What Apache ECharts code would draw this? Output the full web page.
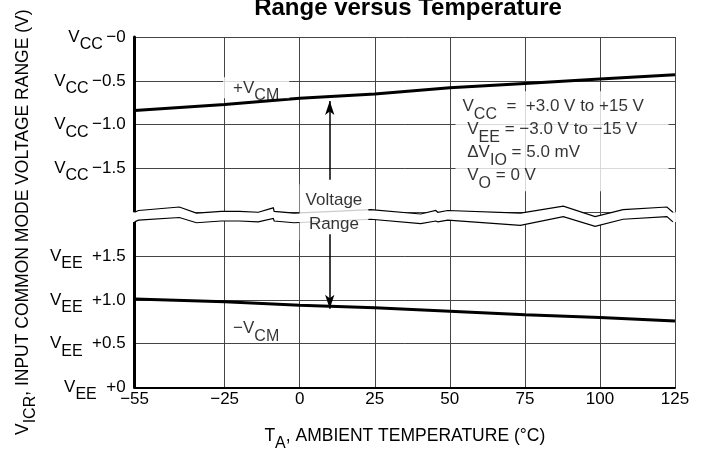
<!DOCTYPE html>
<html><head><meta charset="utf-8">
<script src="https://cdn.jsdelivr.net/npm/echarts@6/dist/echarts.min.js"></script>
<style>html,body{margin:0;padding:0;background:#fff}#c{width:702px;height:457px}</style>
</head><body><div id="c"></div>
<script>
// ---- data ----
const temps = [-55, -25, 0, 25, 50, 75, 100, 125];
const xTicks = [-55, -25, 0, 25, 50, 75, 100, 125];
// +VCM, expressed as offset from VCC (V)
const vcmPlusFromVcc = [-0.84, -0.77, -0.70, -0.65, -0.58, -0.53, -0.48, -0.43];
// -VCM, expressed as offset above VEE (V)
const vcmMinusFromVee = [1.01, 0.98, 0.94, 0.91, 0.87, 0.83, 0.80, 0.76];
// broken axis: lower part VEE+0..+1.5, upper part VCC-1.5..-0 ; VCC-0 sits at 4 on the shared scale
const VCC_LEVEL = 4;
const yTickValues = [0, 0.5, 1, 1.5, 2.5, 3, 3.5, 4];
const yTickLabels = ['V{s|EE}  +0', 'V{s|EE}  +0.5', 'V{s|EE}  +1.0', 'V{s|EE}  +1.5',
                     'V{s|CC}\u2009\u22121.5', 'V{s|CC}\u2009\u22121.0', 'V{s|CC}\u2009\u22120.5', 'V{s|CC}\u2009\u22120'];
// axis-break zigzag lines [temperature, shared-scale value]
const breakTop = [[-55,2.00],[-53.7,2.02],[-40.1,2.06],[-34.4,1.99],[-26.1,2.01],[-20.1,2.01],[-13.8,2.00],[-8.8,2.05],[-8.5,2.01],[-1.9,1.99],[11.4,2.01],[23.7,2.03],[40.3,1.98],[45.3,2.02],[46.0,2.00],[49.3,2.02],[73.5,1.99],[87.8,2.07],[98.4,1.95],[107.7,2.03],[122.3,2.06],[124.3,2.00]];
const breakBottom = [[-55,1.89],[-53.7,1.91],[-40.1,1.94],[-34.4,1.88],[-26.1,1.90],[-20.1,1.90],[-13.8,1.89],[-8.8,1.93],[-8.5,1.90],[-1.9,1.88],[11.4,1.90],[23.7,1.92],[40.3,1.87],[45.3,1.90],[46.0,1.89],[49.3,1.91],[73.5,1.85],[87.8,1.95],[98.4,1.84],[107.7,1.92],[122.3,1.95],[124.3,1.89]];
// arrows of "Voltage Range" (temperature, from, to on the shared scale)
const arrowT = 10;
const arrowUp = [2.37, 3.27];
const arrowDown = [1.75, 0.90];

const FONT = "'Liberation Sans', Arial, Helvetica, sans-serif";
const sub = { fontSize: 16, fontFamily: FONT, color: '#000', lineHeight: 8, padding: [15, 0, 0, 0] };

const chart = echarts.init(document.getElementById('c'), null, { renderer: 'canvas' });
const option = {
  animation: false,
  backgroundColor: '#fff',
  title: {
    text: 'Range versus Temperature',
    left: 403, top: -9, textAlign: 'center',
    textStyle: { fontFamily: FONT, fontWeight: 'bold', fontSize: 24, color: '#000' }
  },
  grid: { left: 133, right: 27, top: 37, bottom: 68 },
  xAxis: {
    type: 'value', min: -55, max: 125,
    name: 'T{s|A}, AMBIENT TEMPERATURE (\u00B0C)',
    nameLocation: 'middle', nameGap: 40,
    nameTextStyle: { fontFamily: FONT, fontSize: 17.5, color: '#000', rich: { s: sub } },
    axisLine: { show: true, onZero: false, lineStyle: { color: '#000', width: 2 } },
    axisTick: { show: false, customValues: xTicks },
    axisLabel: {
      customValues: xTicks, margin: 3,
      fontFamily: FONT, fontSize: 17, color: '#000',
      formatter: v => (v < 0 ? '\u2212' + Math.abs(v) : String(v))
    },
    splitLine: { show: true, lineStyle: { color: '#444', width: 1 } }
  },
  yAxis: {
    type: 'value', min: 0, max: 4, interval: 0.5,
    name: 'V{s|ICR}, INPUT COMMON MODE VOLTAGE RANGE (V)',
    nameLocation: 'middle', nameGap: 100, nameRotate: 90,
    nameTextStyle: { fontFamily: FONT, fontSize: 17.5, color: '#000', rich: { s: sub }, padding: [0, 20, 0, 0] },
    axisLine: { show: true, onZero: false, lineStyle: { color: '#000', width: 3 } },
    axisTick: { show: false },
    axisLabel: {
      margin: 9, fontFamily: FONT, fontSize: 17, color: '#000', rich: { s: sub },
      formatter: v => {
        const i = yTickValues.findIndex(t => Math.abs(t - v) < 1e-6);
        return i >= 0 ? yTickLabels[i] : '';
      }
    },
    splitLine: { show: true, lineStyle: { color: '#444', width: 1 } }
  },
  series: [
    {
      type: 'custom', z: 2, silent: true, clip: false,
      data: [[0, 0]],
      renderItem: (params, api) => {
        const top = breakTop.map(p => api.coord(p));
        const bot = breakBottom.map(p => api.coord(p));
        const poly = [[top[0][0] - 3, top[0][1]]].concat(top, [[top[top.length - 1][0] + 3, top[top.length - 1][1]]],
          [[bot[bot.length - 1][0] + 3, bot[bot.length - 1][1]]], bot.slice().reverse(), [[bot[0][0] - 3, bot[0][1]]]);
        return {
          type: 'group', children: [
            { type: 'polygon', shape: { points: poly }, style: { fill: '#fff', stroke: null } },
            { type: 'polyline', shape: { points: top }, style: { stroke: '#000', lineWidth: 1.2, fill: null } },
            { type: 'polyline', shape: { points: bot }, style: { stroke: '#000', lineWidth: 1.2, fill: null } }
          ]
        };
      }
    },
    {
      name: '+VCM', type: 'line', z: 3, symbol: 'none',
      lineStyle: { color: '#000', width: 3 },
      data: temps.map((t, i) => [t, VCC_LEVEL + vcmPlusFromVcc[i]])
    },
    {
      name: '-VCM', type: 'line', z: 3, symbol: 'none',
      lineStyle: { color: '#000', width: 3 },
      data: temps.map((t, i) => [t, vcmMinusFromVee[i]])
    },
    {
      type: 'scatter', z: 4, symbolSize: 0, silent: true,
      label: { show: true, fontFamily: FONT, fontSize: 17, color: '#000', rich: { s: sub } },
      data: [
        { value: [-14.5, 3.42], label: { position: 'inside', formatter: '+V{s|CM}', backgroundColor: '#fff', padding: [2, 10, 2, 10] } },
        { value: [-14.5, 0.67], label: { position: 'inside', formatter: '\u2212V{s|CM}' } },
        { value: [11.4, 2.0], label: { position: 'inside', formatter: 'Voltage\nRange', lineHeight: 24, backgroundColor: '#fff', padding: [4, 6, 4, 6] } },
        { value: [51.9, 2.81], label: { position: 'right', distance: 0, lineHeight: 23,
            formatter: 'V{s|CC}  =  +3.0 V to +15 V\n V{s|EE} = \u22123.0 V to \u221215 V\n \u0394V{s|IO} = 5.0 mV\n V{s|O} = 0 V',
            backgroundColor: '#fff', width: 200, padding: [4, 6, 4, 7] } }
      ],
      markLine: {
        silent: true, symbol: ['none', 'arrow'], symbolSize: [7, 14],
        lineStyle: { color: '#000', width: 1.5, type: 'solid' },
        label: { show: false },
        data: [
          [{ coord: [arrowT, arrowUp[0]] }, { coord: [arrowT, arrowUp[1]] }],
          [{ coord: [arrowT, arrowDown[0]] }, { coord: [arrowT, arrowDown[1]] }]
        ]
      }
    }
  ]
};
chart.setOption(option);
</script>
</body></html>
